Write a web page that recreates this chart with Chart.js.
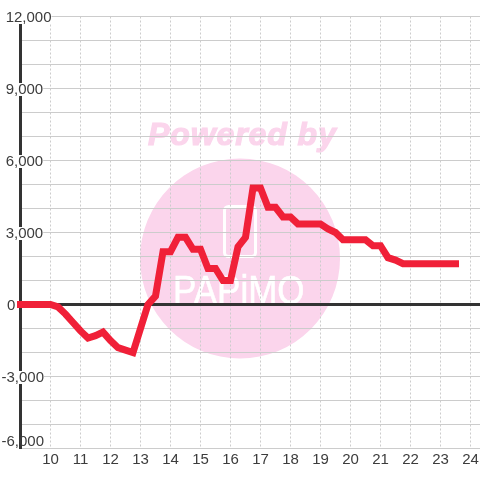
<!DOCTYPE html>
<html>
<head>
<meta charset="utf-8">
<style>
  html, body { margin: 0; padding: 0; background: #fff; }
  #chart { display: block; }
</style>
<script src="https://cdn.jsdelivr.net/npm/chart.js@4"></script>
</head>
<body>
<canvas id="chart" width="480" height="480"></canvas>
<script>
const times = [9, 9.25, 9.5, 9.75, 10, 10.25, 10.5, 10.75, 11, 11.25, 11.5, 11.75,
  12, 12.25, 12.5, 12.75, 13, 13.25, 13.5, 13.75, 14, 14.25, 14.5, 14.75,
  15, 15.25, 15.5, 15.75, 16, 16.25, 16.5, 16.75, 17, 17.25, 17.5, 17.75,
  18, 18.25, 18.5, 18.75, 19, 19.25, 19.5, 19.75, 20, 20.25, 20.5, 20.75,
  21, 21.25, 21.5, 21.75, 22, 22.25, 22.5, 22.75, 23, 23.25, 23.5];
const values = [0, 0, 0, 0, 0, -100, -400, -750, -1100, -1400, -1300, -1150,
  -1500, -1800, -1900, -2000, -1000, 0, 350, 2200, 2200, 2800, 2800, 2300,
  2300, 1500, 1500, 1000, 1000, 2400, 2800, 4850, 4850, 4050, 4050, 3650,
  3650, 3350, 3350, 3350, 3350, 3150, 3000, 2700, 2700, 2700, 2700, 2450,
  2450, 1950, 1850, 1700, 1700, 1700, 1700, 1700, 1700, 1700, 1700];

const xTickValues = [10, 11, 12, 13, 14, 15, 16, 17, 18, 19, 20, 21, 22, 23, 24];
const yLabelValues = [12000, 9000, 6000, 3000, 0, -3000];
// leading spaces keep the digits lined up and let the minus hang out to the left
const yLabelTexts = ["\u00a012,000", "\u00a09,000", "\u00a06,000", "\u00a03,000", "\u00a0\u200a0", "-3,000"];
const yBottomValue = -6000;
const yBottomText = "-6,000";

const labelColor = "#3c3c3c";
const labelFamily = "'Liberation Sans', Arial, sans-serif";
const labelFont = { family: labelFamily, size: 15, lineHeight: 13 / 15 };

// the faded logo sits under the grid, so it goes in before the scales
const watermark = {
  id: "watermark",
  beforeDraw(chart) {
    const ctx = chart.ctx;
    ctx.save();
    ctx.fillStyle = "#fbd5ec";
    ctx.strokeStyle = "#fbd5ec";
    ctx.beginPath();
    ctx.arc(240, 258.5, 100, 0, Math.PI * 2);
    ctx.fill();

    ctx.font = "italic bold 32px 'Liberation Sans', Arial, sans-serif";
    ctx.textAlign = "left";
    ctx.textBaseline = "alphabetic";
    ctx.letterSpacing = "0.9px";
    ctx.lineWidth = 1.2;
    ctx.fillText("Powered by", 148, 145);
    ctx.strokeText("Powered by", 148, 145);

    ctx.strokeStyle = "#fff";
    ctx.lineWidth = 3;
    ctx.beginPath();
    ctx.roundRect(224.5, 206.5, 31, 50, 4);
    ctx.stroke();

    ctx.fillStyle = "#fff";
    ctx.font = "40px 'Liberation Sans', sans-serif";
    ctx.letterSpacing = "0px";
    ctx.translate(173, 304);
    ctx.scale(0.875, 1);
    ctx.lineWidth = 0.6;
    ctx.fillText("PAPiMO", 0, 0);
    ctx.strokeText("PAPiMO", 0, 0);
    ctx.restore();
  },
  // the lowest label is pushed up to stay clear of the x labels, ticks can't do that one by one
  beforeDatasetsDraw(chart) {
    const ctx = chart.ctx;
    ctx.save();
    ctx.fillStyle = labelColor;
    ctx.font = "15px " + labelFamily;
    ctx.textAlign = "left";
    ctx.textBaseline = "middle";
    ctx.fillText(yBottomText, 1.5, chart.scales.y.getPixelForValue(yBottomValue) - 6.5);
    ctx.restore();
  }
};

new Chart(document.getElementById("chart"), {
  type: "line",
  data: {
    datasets: [{
      data: times.map((t, i) => ({ x: t, y: values[i] })),
      borderColor: "#f02038",
      borderWidth: 7,
      borderCapStyle: "square",
      borderJoinStyle: "miter",
      tension: 0,
      pointRadius: 0,
      clip: false
    }]
  },
  options: {
    responsive: false,
    animation: false,
    layout: { padding: { left: 20.5, top: 16.5, right: 0, bottom: 13.5 } },
    plugins: { legend: { display: false }, tooltip: { enabled: false } },
    scales: {
      x: {
        type: "linear",
        min: 9,
        max: 24.317,
        afterFit(scale) {
          scale.height = 18;
          scale.paddingLeft = 0;
          scale.paddingRight = 0;
        },
        grid: {
          color: (c) => (xTickValues.includes(c.tick.value) ? "#cccccc" : "transparent"),
          lineWidth: 1,
          drawTicks: false
        },
        border: { display: false, dash: [2, 2] },
        ticks: {
          stepSize: 1,
          includeBounds: false,
          autoSkip: false,
          maxRotation: 0,
          padding: 5,
          color: labelColor,
          font: labelFont,
          callback: (v) => (xTickValues.includes(v) ? String(v) : "")
        }
      },
      y: {
        min: -6000,
        max: 12000,
        afterFit(scale) {
          scale.width = 0;
          scale.paddingTop = 0;
          scale.paddingBottom = 0;
        },
        grid: {
          color: (c) => (c.tick.value === 0 ? "#333333" : "#cccccc"),
          lineWidth: (c) => (c.tick.value === 0 ? 3 : 1),
          drawTicks: false
        },
        border: { color: "#333333", width: 3 },
        ticks: {
          stepSize: 1000,
          autoSkip: false,
          mirror: true,
          padding: -19,
          labelOffset: 1,
          color: labelColor,
          font: labelFont,
          showLabelBackdrop: (c) => yLabelValues.includes(c.tick.value) || c.tick.value === yBottomValue,
          backdropColor: "#fff",
          backdropPadding: (c) => (c.tick.value === yBottomValue
            ? { top: 6.8, bottom: 0, left: 0, right: 44.5 }
            : { top: -2, bottom: 0, left: 0, right: 2 }),
          callback: (v) => {
            const i = yLabelValues.indexOf(v);
            return i < 0 ? "" : yLabelTexts[i];
          }
        }
      }
    }
  },
  plugins: [watermark]
});
</script>
</body>
</html>
